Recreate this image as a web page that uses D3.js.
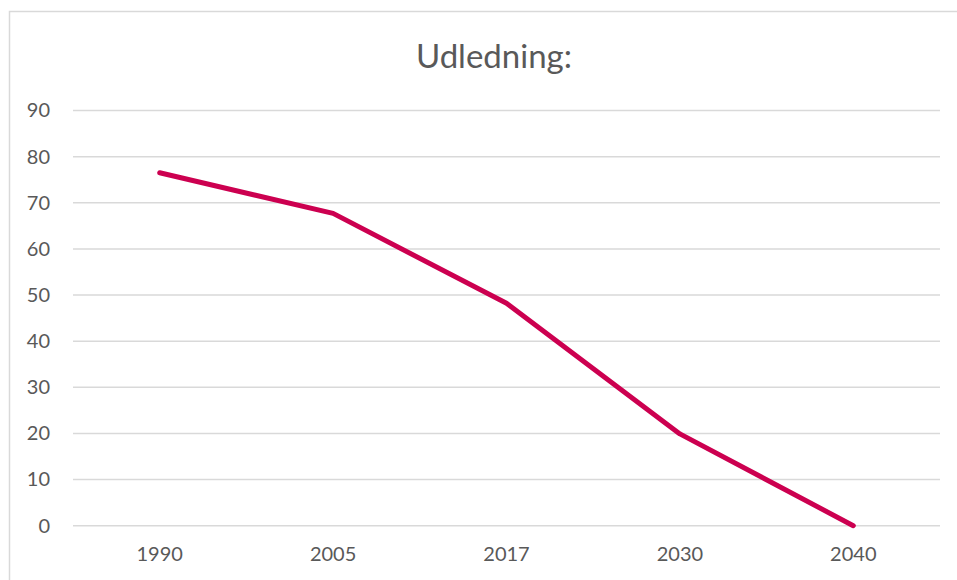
<!DOCTYPE html>
<html><head><meta charset="utf-8">
<script src="https://cdn.jsdelivr.net/npm/d3@7"></script>
<style>body{margin:0;background:#fff}svg{display:block}text{font-family:Lato,"Open Sans",sans-serif;fill:#595959}</style>
</head><body><svg id="c" width="957" height="580"></svg>
<script>
const categories = ["1990","2005","2017","2030","2040"];
const values = [76.5, 67.7, 48.2, 19.9, 0];
const yTicks = [0,10,20,30,40,50,60,70,80,90];
const title = "Udledning:";

const svg = d3.select("#c");
svg.append("rect").attr("x",9.5).attr("y",11.5).attr("width",1000).attr("height",1000)
  .attr("fill","none").attr("stroke","#d9d9d9").attr("stroke-width",1.5);

const x = d3.scaleBand().domain(categories).range([73,940]);
const y = d3.scaleLinear().domain([0,90]).range([525.7,110.5]);

const grid = svg.append("g");
grid.selectAll("line").data(yTicks).join("line")
  .attr("x1",73).attr("x2",940).attr("y1",d=>y(d)).attr("y2",d=>y(d))
  .attr("stroke","#d9d9d9").attr("stroke-width",1.5);

const yAxis = svg.append("g").attr("transform","translate(62,0)")
  .call(d3.axisLeft(y).tickValues(yTicks).tickSize(0).tickPadding(12));
yAxis.select(".domain").remove();
yAxis.attr("font-size",20);
yAxis.selectAll("text").attr("font-size",20).style("font-family","Lato, 'Open Sans', sans-serif").attr("fill","#595959");

const xAxis = svg.append("g").attr("transform","translate(0,539)")
  .call(d3.axisBottom(x).tickSize(0).tickPadding(8));
xAxis.select(".domain").remove();
xAxis.attr("font-size",20);
xAxis.selectAll("text").attr("font-size",20).style("font-family","Lato, 'Open Sans', sans-serif").attr("fill","#595959");

const line = d3.line().x((d,i)=>x(categories[i])+x.bandwidth()/2).y(d=>y(d));
svg.append("path").datum(values).attr("d",line).attr("fill","none")
  .attr("stroke","#cc0050").attr("stroke-width",5).attr("stroke-linecap","round").attr("stroke-linejoin","round");

svg.append("text").attr("x",494).attr("y",68).attr("text-anchor","middle").attr("font-size",33).text(title);
</script></body></html>
